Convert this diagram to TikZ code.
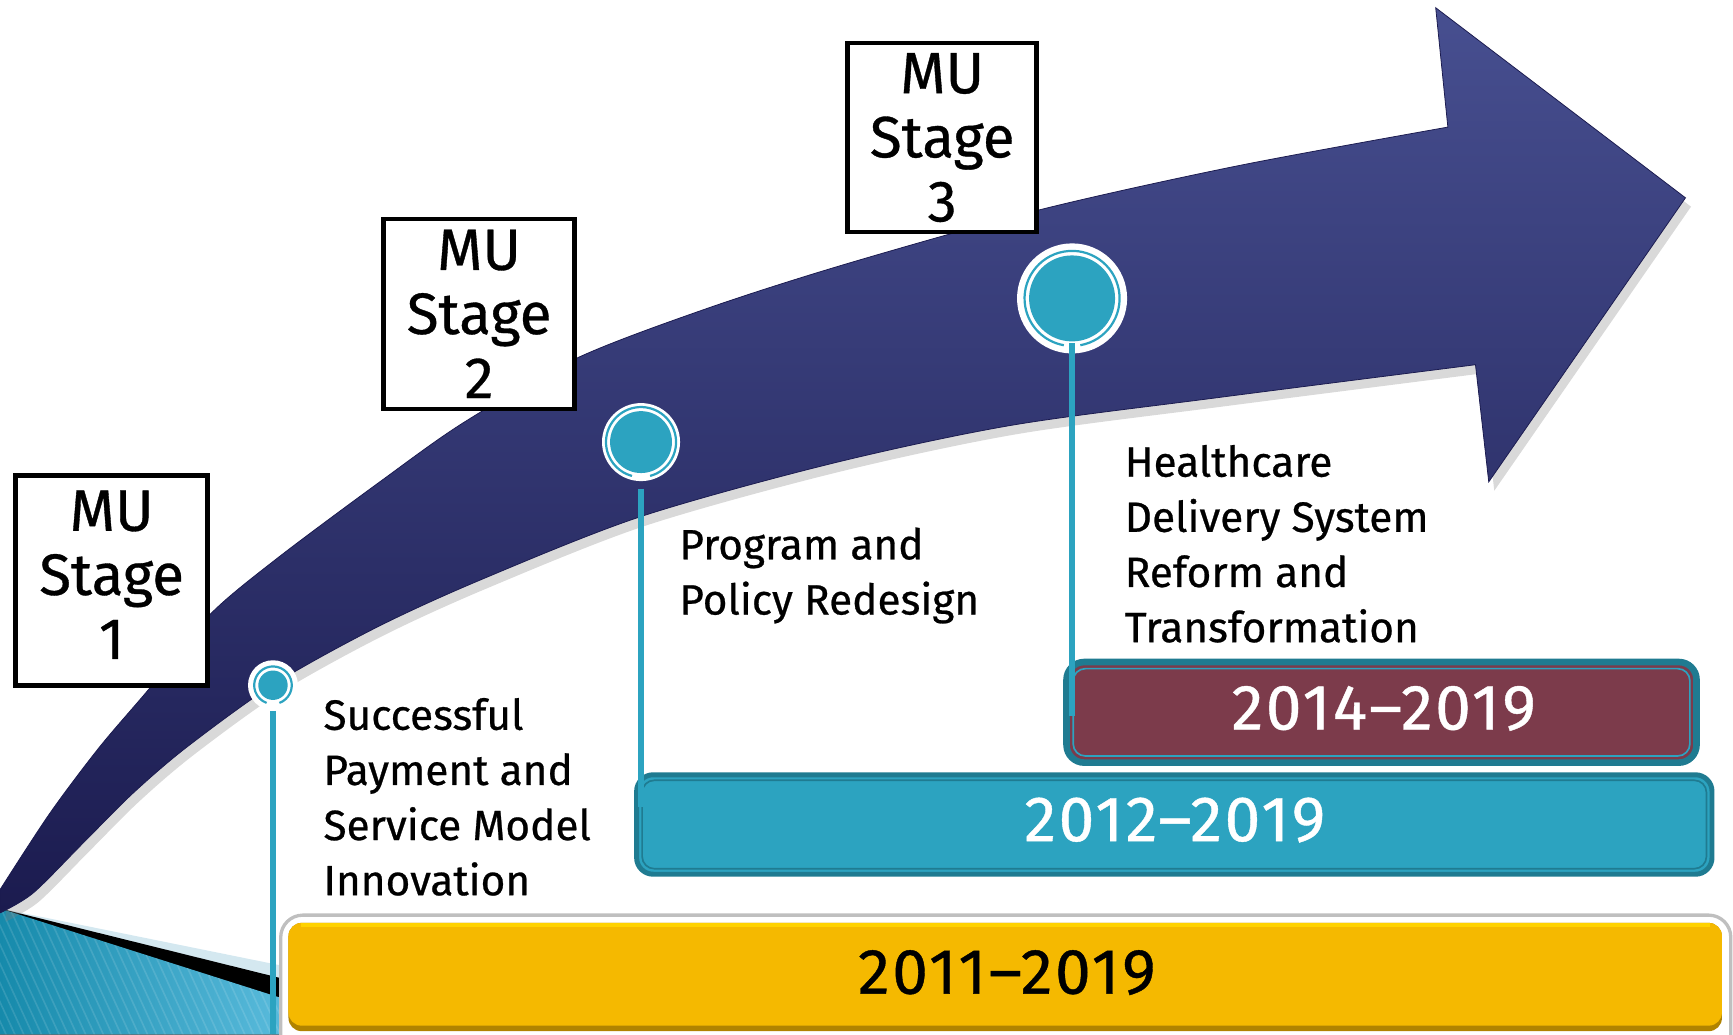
\documentclass[tikz,border=0pt]{standalone}
\usepackage{fontspec}
\setmainfont{Fira Sans}[FakeBold=0.6]
\usetikzlibrary{shadows}
\definecolor{navyT}{HTML}{474F90}
\definecolor{navyB}{HTML}{1B1B4F}
\definecolor{tealC}{HTML}{2CA3C0}
\definecolor{tealD}{HTML}{1F7B91}
\definecolor{maroonC}{HTML}{7C3B4B}
\definecolor{goldC}{HTML}{F5B900}
\definecolor{goldD}{HTML}{B08300}
\definecolor{goldL}{HTML}{FFD200}
\definecolor{tealBL}{HTML}{168AAB}
\definecolor{tealBR}{HTML}{5BBCDD}
\definecolor{paleblue}{HTML}{D4E8F0}
\begin{document}
\begin{tikzpicture}[x=0.1mm,y=-0.1mm,
  stagebox/.style={draw=black, line width=0.42mm, fill=white, inner sep=0pt},
  stagetext/.style={inner sep=0pt, align=center, font=\fontsize{15}{16.5}\selectfont},
  bodytext/.style={anchor=base west, align=left, inner sep=0pt, font=\fontsize{10.9}{14.2}\selectfont},
  yeartext/.style={inner sep=0pt, font=\fontsize{16.5}{19}\selectfont\addfontfeatures{LetterSpace=4}},
  dot/.style={circle, fill=white, inner sep=0pt, minimum size=#1},
  stem/.style={draw=tealC, line width=0.6mm},
]
\useasboundingbox (0,0) rectangle (1568,935.7);
\clip (0,0) rectangle (1568,935.7);

% bottom-left teal wedge
\fill[paleblue] (0,822) -- (264,875.5) -- (264,936) -- (0,936) -- cycle;
\fill[black] (0,822) -- (264,887.5) -- (264,936) -- (0,936) -- cycle;
\fill[left color=tealBL, right color=tealBR] (0,822) -- (264,906) -- (264,936) -- (0,936) -- cycle;
\begin{scope}
  \clip (0,822) -- (264,906) -- (264,936) -- (0,936) -- cycle;
  \foreach \i in {-200,-192,...,300}
    \draw[white, opacity=0.12, line width=0.15mm] (\i,820) -- ++(60,130);
\end{scope}

% big arrow
\path[top color=navyT, bottom color=navyB, draw=navyB, line width=0.2pt,
      drop shadow={opacity=0.3, shadow xshift=0.5mm, shadow yshift=-0.8mm}]
  plot[smooth] coordinates {(0,805) (45,736) (90,676) (136,622) (190,556) (251,505) (345,435) (420,382) (522,324) (640,279) (765,239) (940,190) (1120,150) (1310,115)}
  -- (1299,7) -- (1525,179) -- (1347,436) -- (1335,330)
  -- plot[smooth] coordinates {(1335,330) (1100,360) (914,385) (750,420) (578,468) (434,525) (340,568) (248,619) (169,676) (120,718) (75,763) (30,808) (0,826)}
  -- cycle;

% stage boxes
\node[stagebox, minimum width=17.4mm, minimum height=19.0mm] (b1) at (101,525) {};
\node[stagetext] (b1t) at ([yshift=1.4pt]b1.center) {MU\\Stage\\1};
\node[stagebox, minimum width=17.3mm, minimum height=17.2mm] (b2) at (433.5,284) {};
\node[stagetext] (b2t) at (b2.center) {MU\\Stage\\2};
\node[stagebox, minimum width=17.1mm, minimum height=17.1mm] (b3) at (852.5,124.5) {};
\node[stagetext] (b3t) at (b3.center) {MU\\Stage\\3};

% milestone circles
\node[dot=4.52mm] (c1) at (247,620) {};
\draw[tealC, line width=0.2mm] ([shift={(-70:1.7mm)}]c1.center) arc[start angle=-70, end angle=250, radius=1.7mm];
\fill[tealC] (c1.center) circle[radius=1.33mm];

\node[dot=7.06mm] (c2) at (580,400) {};
\draw[tealC, line width=0.2mm] ([shift={(-75:3.17mm)}]c2.center) arc[start angle=-75, end angle=255, radius=3.17mm];
\fill[tealC] (c2.center) circle[radius=2.8mm];

\node[dot=9.96mm] (c3) at (970,270) {};
\draw[tealC, line width=0.2mm] ([shift={(-80:4.3mm)}]c3.center) arc[start angle=-80, end angle=260, radius=4.3mm];
\fill[tealC] (c3.center) circle[radius=3.89mm];

% bars
\draw[fill=white, draw=black!25, line width=0.3mm, rounded corners=2mm] (254,828) rectangle (1566,960);
\fill[goldD, rounded corners=1.2mm] (261,835) rectangle (1558,933);
\fill[goldC, rounded corners=1.2mm] (261,835) rectangle (1558,928);
\draw[goldL, line width=0.3mm] (272,837) -- (1547,837);
\node[yeartext] (y1) at (911,880) {2011–2019};

\draw[fill=tealC, draw=tealD, line width=0.45mm, rounded corners=1.5mm] (576,701) rectangle (1549,791);
\draw[tealD, line width=0.15mm, rounded corners=1.1mm] (581,706) rectangle (1544,786);
\node[yeartext, text=white] (y2) at (1063,742) {2012–2019};

\draw[fill=maroonC, draw=tealD, line width=0.6mm, rounded corners=1.6mm] (965,599) rectangle (1535,690);
\draw[tealC, line width=0.15mm, rounded corners=1.1mm] (971,605) rectangle (1529,684);
\node[yeartext, text=white] (y3) at (1252,641) {2014–2019};

% stems
\coordinate (s1) at (247,936);
\coordinate (s2) at (580,730);
\coordinate (s3) at (970,648);
\draw[stem] (c1.south) -- (s1);
\draw[stem] ([yshift=-0.6mm]c2.south) -- (s2);
\draw[stem] ([yshift=1mm]c3.south) -- (s3);

% descriptions (anchor = baseline of last line)
\node[bodytext] (t1) at (292,810) {Successful\\Payment and\\Service Model\\Innovation};
\node[bodytext] (t2) at (614,556) {Program and\\Policy Redesign};
\node[bodytext] (t3) at (1017,581) {Healthcare\\Delivery System\\Reform and\\Transformation};
\end{tikzpicture}
\end{document}
